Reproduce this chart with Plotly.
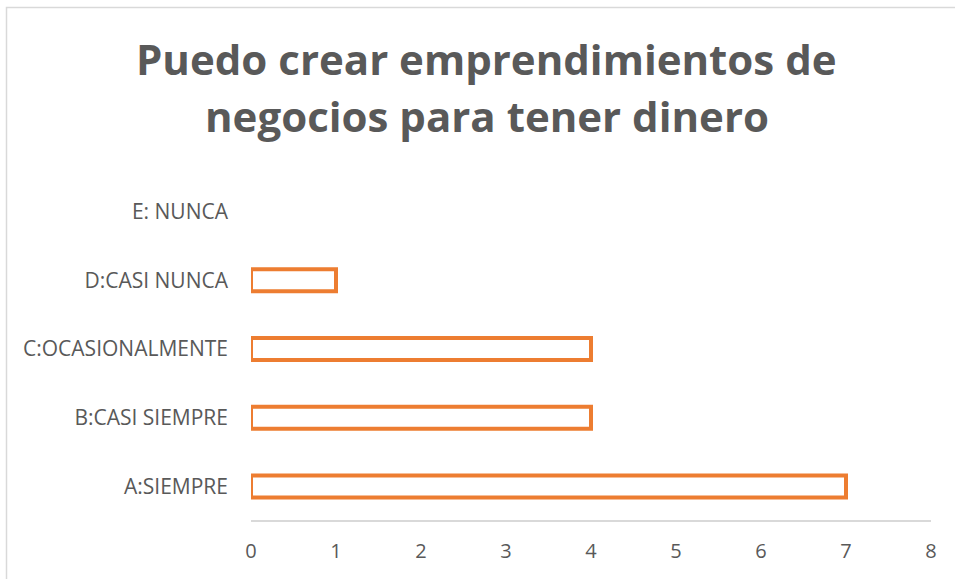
import plotly.graph_objects as go

categories = ["A:SIEMPRE", "B:CASI SIEMPRE", "C:OCASIONALMENTE", "D:CASI NUNCA", "E: NUNCA"]
values = [7, 4, 4, 1, 0]
title_lines = ["Puedo crear emprendimientos de", "negocios para tener dinero"]
x_ticks = [0, 1, 2, 3, 4, 5, 6, 7, 8]

W, H = 955, 579
L, R, T, B = 251, 24, 177, 58
pw = W - L - R
ph = H - T - B

TEXT = "#595959"
FONT = "Open Sans, Lato, sans-serif"


def px_to_paper_x(px):
    return (px - L) / pw


def px_to_paper_y(py):
    return 1 - (py - T) / ph


fig = go.Figure()
fig.add_trace(go.Bar(
    y=categories,
    x=[v if v > 0 else None for v in values],
    orientation="h",
    width=0.32,
    marker=dict(color="white", line=dict(color="#ED7D31", width=4)),
    hoverinfo="x+y",
))

annotations = []
for i, (line, cy) in enumerate(zip(title_lines, [58, 115])):
    annotations.append(dict(
        text=line, xref="paper", yref="paper",
        x=px_to_paper_x(486.5), y=px_to_paper_y(cy),
        xanchor="center", yanchor="middle", showarrow=False,
        font=dict(family=FONT, size=42, color=TEXT, weight="bold"),
    ))

fig.update_layout(
    width=W, height=H,
    margin=dict(l=L, r=R, t=T, b=B, autoexpand=False),
    paper_bgcolor="white",
    plot_bgcolor="white",
    showlegend=False,
    font=dict(family=FONT, color=TEXT, size=20),
    annotations=annotations,
    xaxis=dict(
        range=[0, 8],
        tickvals=x_ticks,
        showgrid=False,
        zeroline=False,
        showline=False,
        ticks="",
        tickfont=dict(size=20, color=TEXT),
        ticklabelstandoff=16,
        fixedrange=True,
    ),
    yaxis=dict(
        categoryorder="array",
        categoryarray=categories,
        showgrid=False,
        zeroline=False,
        showline=False,
        ticks="",
        tickfont=dict(size=21, color=TEXT),
        ticklabelstandoff=22,
        fixedrange=True,
    ),
    shapes=[
        dict(type="line", xref="paper", yref="paper", x0=0, x1=1, y0=0, y1=0,
             line=dict(color="#D9D9D9", width=2)),
        dict(type="rect", xref="paper", yref="paper",
             x0=px_to_paper_x(6.5), x1=px_to_paper_x(W + 20),
             y0=px_to_paper_y(H + 20), y1=px_to_paper_y(7.5),
             line=dict(color="#D9D9D9", width=1.5), fillcolor="rgba(0,0,0,0)", layer="below"),
    ],
)

fig.write_html(
    "out.html",
    config={"displayModeBar": False},
    post_script="document.body.style.margin='0';document.body.style.overflow='hidden';",
)
